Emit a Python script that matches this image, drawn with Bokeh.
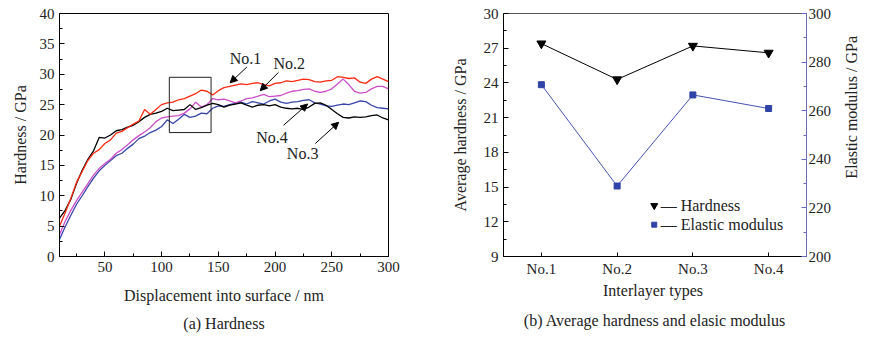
import math
from bokeh.plotting import figure
from bokeh.layouts import row
from bokeh.models import (Range1d, LinearAxis, FixedTicker, Title, Arrow,
                          NormalHead, BoxAnnotation)
from bokeh.core.properties import value
from bokeh.embed import file_html
from bokeh.resources import INLINE

# ---------------- data: panel (a) ----------------
depth = list(range(10, 301, 5))
h_no1 = [5.0, 7.2, 9.6, 12.2, 14.0, 15.8, 17.0, 17.6, 18.6, 19.2, 20.3, 20.6, 21.2, 21.8, 22.3,
         24.2, 23.4, 24.2, 25.0, 25.3, 25.4, 25.8, 26.0, 26.4, 26.8, 27.4, 27.2, 26.6, 27.3, 27.8,
         28.0, 28.2, 28.4, 28.3, 28.5, 28.6, 28.3, 28.1, 28.5, 28.6, 28.9, 28.8, 29.0, 29.2, 29.1,
         28.8, 28.7, 28.9, 29.0, 29.6, 29.5, 29.3, 29.4, 28.7, 28.5, 29.2, 29.6, 29.2, 28.8]
h_no2 = [3.6, 5.8, 7.6, 9.2, 10.6, 12.0, 13.4, 14.5, 15.3, 16.0, 17.0, 17.6, 18.4, 19.2, 19.9,
         20.5, 21.2, 22.2, 22.8, 23.0, 23.1, 23.2, 23.6, 24.3, 25.4, 24.6, 25.0, 26.0, 25.8, 25.9,
         25.6, 25.3, 25.6, 26.0, 26.1, 26.4, 26.7, 26.3, 26.4, 26.5, 26.9, 27.2, 27.3, 27.5, 27.6,
         27.2, 27.0, 27.2, 27.6, 28.4, 29.2, 28.3, 27.2, 26.9, 27.0, 27.6, 28.0, 28.0, 27.6]
h_no3 = [6.3, 7.6, 9.4, 12.0, 14.2, 16.0, 17.4, 19.6, 19.5, 20.0, 20.7, 20.9, 21.3, 21.6, 22.2,
         22.9, 23.4, 23.6, 23.9, 24.4, 24.0, 24.1, 24.2, 25.0, 24.2, 24.5, 24.9, 25.2, 25.0, 24.6,
         24.9, 25.1, 25.3, 24.9, 24.6, 24.9, 25.0, 24.8, 25.0, 24.6, 24.4, 24.3, 24.4, 24.2, 24.6,
         25.2, 25.3, 24.9, 24.2, 23.5, 22.9, 22.8, 23.0, 22.9, 23.0, 23.2, 23.3, 22.8, 22.5]
h_no4 = [2.8, 4.9, 6.8, 8.6, 10.0, 11.5, 12.9, 14.1, 15.0, 15.8, 16.6, 17.0, 17.8, 18.5, 19.4,
         19.8, 20.4, 20.8, 21.4, 22.5, 21.9, 22.6, 23.4, 22.9, 23.1, 23.6, 23.5, 24.4, 24.8, 24.7,
         25.0, 25.2, 25.4, 25.1, 25.5, 25.3, 25.1, 25.6, 25.9, 25.4, 25.2, 25.4, 25.5, 25.7, 25.8,
         25.3, 25.1, 24.8, 24.7, 24.9, 25.1, 25.0, 25.3, 25.6, 25.5, 24.9, 24.5, 24.4, 24.3]

# ---------------- data: panel (b) ----------------
types = ["No.1", "No.2", "No.3", "No.4"]
avg_hardness = [27.4, 24.3, 27.2, 26.6]
elastic_modulus = [270.7, 229.0, 266.5, 260.9]

FONT = "Liberation Serif"
TXT = "#222222"


def style_axis(ax, tick_size="15px"):
    ax.axis_line_color = "black"
    ax.major_tick_line_color = "black"
    ax.minor_tick_line_color = "black"
    ax.major_tick_in = 5
    ax.major_tick_out = 0
    ax.minor_tick_in = 3
    ax.minor_tick_out = 0
    ax.major_label_text_font = FONT
    ax.major_label_text_font_size = tick_size
    ax.major_label_text_color = TXT
    ax.axis_label_text_font = FONT
    ax.axis_label_text_font_size = "16px"
    ax.axis_label_text_font_style = "normal"
    ax.axis_label_text_color = TXT


def add_text(p, x, y, text, align="center", angle=0.0):
    p.text(x=[x], y=[y], text=[text], text_font=value(FONT), text_font_size="16px",
           text_color=TXT, text_align=align, text_baseline="middle", angle=angle)


# ================= panel (a) =================
pa = figure(width=430, height=345, x_range=Range1d(10, 300), y_range=Range1d(0, 40),
            output_backend="svg", toolbar_location=None,
            min_border_left=59, min_border_right=42, min_border_top=12, min_border_bottom=88)
pa.grid.visible = False
pa.outline_line_color = "black"
pa.outline_line_width = 1
pa.background_fill_color = "white"
pa.border_fill_color = "white"

pa.xaxis.ticker = FixedTicker(ticks=[50, 100, 150, 200, 250, 300],
                              minor_ticks=[25, 75, 125, 175, 225, 275])
pa.yaxis.ticker = FixedTicker(ticks=list(range(0, 41, 5)),
                              minor_ticks=[2.5 + 5 * i for i in range(8)])
for ax in pa.xaxis + pa.yaxis:
    style_axis(ax)
pa.xaxis.axis_label = "Displacement into surface / nm"
pa.yaxis.axis_label = "Hardness / GPa"
pa.xaxis.major_label_standoff = 5
pa.yaxis.major_label_standoff = 5
pa.xaxis.axis_label_standoff = 12
pa.yaxis.axis_label_standoff = 8

pa.line(depth, h_no4, line_color="#3846a8", line_width=1.3)
pa.line(depth, h_no2, line_color="#cc4fc8", line_width=1.3)
pa.line(depth, h_no3, line_color="black", line_width=1.3)
pa.line(depth, h_no1, line_color="#ff2a12", line_width=1.3)

pa.add_layout(BoxAnnotation(left=106.8, right=143.6, bottom=20.4, top=29.5,
                            fill_alpha=0, line_color="#222222", line_alpha=1.0,
                            line_width=1))

ann = [("No.1", 174, 32.6, (175.2, 31.2, 160.4, 28.6)),
       ("No.2", 212.5, 31.8, (203.0, 30.3, 186.9, 27.3)),
       ("No.4", 197.3, 19.6, (207.5, 21.6, 228.7, 25.1)),
       ("No.3", 224.3, 17.0, (235.5, 18.6, 256.1, 22.1))]
for txt, tx, ty, (x0, y0, x1, y1) in ann:
    add_text(pa, tx, ty, txt)
    pa.add_layout(Arrow(x_start=x0, y_start=y0, x_end=x1, y_end=y1, line_color="black",
                        line_width=1,
                        end=NormalHead(size=7, fill_color="black", line_color="black")))

pa.add_layout(Title(text="(a) Hardness", align="center", text_font=FONT,
                    text_font_size="16px", text_font_style="normal", text_color=TXT,
                    standoff=13), "below")

# ================= panel (b) =================
pb = figure(width=409, height=345, x_range=Range1d(0.5, 4.5), y_range=Range1d(9, 30),
            output_backend="svg", toolbar_location=None,
            min_border_left=73, min_border_right=33, min_border_top=13, min_border_bottom=89)
pb.grid.visible = False
pb.outline_line_color = "#555555"
pb.outline_line_width = 1
pb.extra_y_ranges = {"mod": Range1d(200, 300)}

xpos = [1, 2, 3, 4]
pb.xaxis.ticker = FixedTicker(ticks=xpos, minor_ticks=[])
pb.xaxis.major_label_overrides = {i: t for i, t in zip(xpos, types)}
pb.yaxis.ticker = FixedTicker(ticks=list(range(9, 31, 3)),
                              minor_ticks=[10.5 + 3 * i for i in range(7)])
for ax in pb.xaxis + pb.yaxis:
    style_axis(ax)
pb.xaxis.major_tick_in = 4
pb.xaxis.axis_label = "Interlayer  types"
pb.yaxis.axis_label = "Average hardness / GPa"
pb.xaxis.major_label_standoff = 4
pb.yaxis.major_label_standoff = 5
pb.xaxis.axis_label_standoff = 2
pb.yaxis.axis_label_standoff = 12

rax = LinearAxis(y_range_name="mod",
                 ticker=FixedTicker(ticks=list(range(200, 301, 20)),
                                    minor_ticks=list(range(210, 300, 20))))
style_axis(rax)
rax.axis_line_color = "#6a6ac0"
rax.major_tick_line_color = "#6a6ac0"
rax.minor_tick_line_color = "#6a6ac0"
rax.major_label_standoff = 2
pb.add_layout(rax, "right")

pb.line(xpos, avg_hardness, line_color="black", line_width=1)
pb.scatter(xpos, avg_hardness, marker="inverted_triangle", size=9,
           fill_color="black", line_color="black")
pb.line(xpos, elastic_modulus, y_range_name="mod", line_color="#4552b0", line_width=1)
pb.scatter(xpos, elastic_modulus, y_range_name="mod", marker="square", size=6,
           fill_color="#2f42a8", line_color="#2f42a8")

# manual legend
pb.scatter([2.49], [13.4], marker="inverted_triangle", size=7, fill_color="black",
           line_color="black")
pb.scatter([2.49], [11.75], marker="square", size=5, fill_color="#2f42a8",
           line_color="#2f42a8")
add_text(pb, 2.575, 13.4, "\u2014 Hardness", align="left")
add_text(pb, 2.575, 11.75, "\u2014 Elastic modulus", align="left")

pb.add_layout(Title(text="(b) Average hardness and elasic modulus", align="center",
                    text_font=FONT, text_font_size="16px", text_font_style="normal",
                    text_color=TXT, standoff=16), "below")

# ---- strip holding the right-axis title (reads bottom to top) ----
pc = figure(width=36, height=345, x_range=Range1d(0, 1), y_range=Range1d(0, 1),
            output_backend="svg", toolbar_location=None,
            min_border_left=0, min_border_right=0, min_border_top=0, min_border_bottom=0)
pc.axis.visible = False
pc.grid.visible = False
pc.outline_line_color = None
add_text(pc, 0.33, 0.614, "Elastic modulus / GPa", angle=math.pi / 2)

layout = row(pa, pb, pc)
open("out.html", "w").write(file_html(layout, INLINE))
